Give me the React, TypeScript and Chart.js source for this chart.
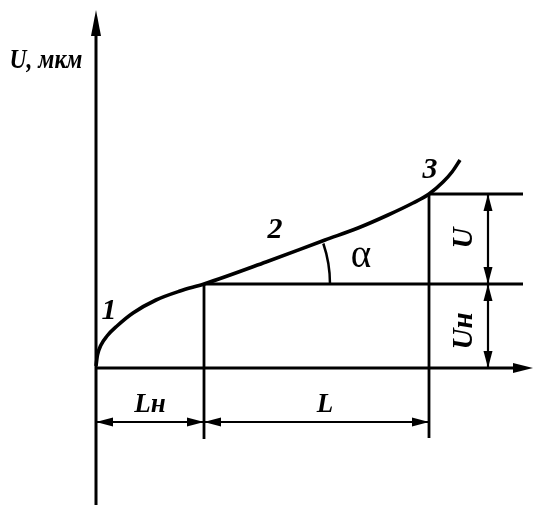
import { useEffect, useRef } from "react";
import { Chart, registerables } from "chart.js";

Chart.register(...registerables);

// Deformation curve: displacement U versus length L (schematic units)
const curveL = [0, 1.5, 5, 11, 21, 37, 60, 84, 108, 170, 229, 262, 292, 317, 333, 347, 356, 364];
const curveU = [2, 13, 23, 32, 42, 55, 68, 77, 84, 106, 128, 140, 153, 165, 174, 186, 196, 208];

// Characteristic segments
const Ln = 108; // initial length Lн
const Lseg = 225; // linear segment length L
const Un = 84; // initial displacement Uн
const Useg = 90; // displacement on the linear segment U

// Region labels along the curve
const regionNames = ["1", "2", "3"];

const FONT = '"Liberation Serif", "Times New Roman", serif';

type Pt = { x: number; y: number };

function seg(a: Pt, b: Pt, width: number) {
  return {
    type: "line" as const,
    data: [a, b],
    borderColor: "#000",
    borderWidth: width,
    pointRadius: 0,
    showLine: true,
    clip: false as const,
  };
}

function arrow(ctx: CanvasRenderingContext2D, tx: number, ty: number, dx: number, dy: number, len: number, hw: number) {
  const bx = tx - dx * len;
  const by = ty - dy * len;
  const nx = -dy;
  const ny = dx;
  ctx.beginPath();
  ctx.moveTo(tx, ty);
  ctx.lineTo(bx + nx * hw, by + ny * hw);
  ctx.lineTo(bx - nx * hw, by - ny * hw);
  ctx.closePath();
  ctx.fill();
}

const decorPlugin = {
  id: "decor",
  afterDatasetsDraw(chart: any) {
    const ctx: CanvasRenderingContext2D = chart.ctx;
    const xs = chart.scales.x;
    const ys = chart.scales.y;
    const px = (v: number) => xs.getPixelForValue(v);
    const py = (v: number) => ys.getPixelForValue(v);
    const L1 = Ln + Lseg;
    const U1 = Un + Useg;
    const dimY = -54;
    const dimX = 392;

    ctx.save();
    ctx.fillStyle = "#000";
    ctx.strokeStyle = "#000";

    // axis arrowheads
    arrow(ctx, px(0), py(358), 0, -1, 26, 5);
    arrow(ctx, px(437), py(0), 1, 0, 20, 5);

    // horizontal dimension arrows
    arrow(ctx, px(0), py(dimY), -1, 0, 17, 4.5);
    arrow(ctx, px(Ln), py(dimY), 1, 0, 17, 4.5);
    arrow(ctx, px(Ln), py(dimY), -1, 0, 17, 4.5);
    arrow(ctx, px(L1), py(dimY), 1, 0, 17, 4.5);

    // vertical dimension arrows
    arrow(ctx, px(dimX), py(U1), 0, -1, 17, 4.5);
    arrow(ctx, px(dimX), py(Un), 0, 1, 17, 4.5);
    arrow(ctx, px(dimX), py(Un), 0, -1, 17, 4.5);
    arrow(ctx, px(dimX), py(0), 0, 1, 17, 4.5);

    // slope angle arc
    const cx = px(Ln);
    const cy = py(Un);
    const r = px(Ln + 126) - cx;
    const ang = Math.atan2(py(Un) - py(U1), px(L1) - px(Ln)) * 0.86;
    ctx.lineWidth = 2.5;
    ctx.beginPath();
    ctx.arc(cx, cy, r, -ang, 0);
    ctx.stroke();

    // text
    ctx.textAlign = "center";
    ctx.textBaseline = "middle";
    const text = (s: string, x: number, y: number, font: string, rot = 0, sx = 1) => {
      ctx.save();
      ctx.translate(px(x), py(y));
      ctx.rotate(rot);
      ctx.scale(sx, 1);
      ctx.font = font;
      ctx.fillText(s, 0, 0);
      ctx.restore();
    };
    const bi = (size: number) => `italic bold ${size}px ${FONT}`;

    text("U, мкм", -50, 307, bi(28), 0, 0.84);
    text(regionNames[0], 13, 57, bi(30));
    text(regionNames[1], 179, 138, bi(30));
    text(regionNames[2], 334, 198, bi(30));
    text("α", 265, 111, `${39}px ${FONT}`);
    text("Lн", 54, -37, bi(27));
    text("L", 229, -37, bi(27));
    text("U", 369, 130, bi(29), -Math.PI / 2);
    text("Uн", 369, 37, bi(29), -Math.PI / 2);

    ctx.restore();
  },
};

export default function App() {
  const ref = useRef<HTMLCanvasElement | null>(null);

  useEffect(() => {
    if (!ref.current) return;
    const L1 = Ln + Lseg;
    const U1 = Un + Useg;
    const dimY = -54;
    const dimX = 392;

    const curve = curveL.map((x, i) => ({ x, y: curveU[i] }));

    const chart = new Chart(ref.current, {
      type: "scatter",
      data: {
        datasets: [
          // axes
          seg({ x: 0, y: -140 }, { x: 0, y: 336 }, 3),
          seg({ x: 0, y: 0 }, { x: 420, y: 0 }, 3),
          // construction lines
          seg({ x: Ln, y: Un }, { x: Ln, y: -71 }, 2.8),
          seg({ x: L1, y: U1 }, { x: L1, y: -70 }, 2.8),
          seg({ x: Ln, y: Un }, { x: 427, y: Un }, 2.8),
          seg({ x: L1, y: U1 }, { x: 427, y: U1 }, 2.8),
          // dimension lines
          seg({ x: 0, y: dimY }, { x: L1, y: dimY }, 2.2),
          seg({ x: dimX, y: 0 }, { x: dimX, y: U1 }, 2.2),
          // curve
          {
            type: "line" as const,
            data: curve,
            borderColor: "#000",
            borderWidth: 3.6,
            pointRadius: 0,
            showLine: true,
            cubicInterpolationMode: "monotone",
            clip: false as const,
          },
        ] as any,
      },
      options: {
        animation: false,
        responsive: false,
        devicePixelRatio: 1,
        layout: { padding: 0 },
        plugins: { legend: { display: false }, tooltip: { enabled: false } },
        scales: {
          x: { type: "linear", min: -96, max: 443, display: false },
          y: { type: "linear", min: -137, max: 368, display: false },
        },
      },
      plugins: [decorPlugin],
    });
    return () => chart.destroy();
  }, []);

  return (
    <div style={{ position: "fixed", left: 0, top: 0, width: 539, height: 505, background: "#fff" }}>
      <canvas ref={ref} width={539} height={505} />
    </div>
  );
}
